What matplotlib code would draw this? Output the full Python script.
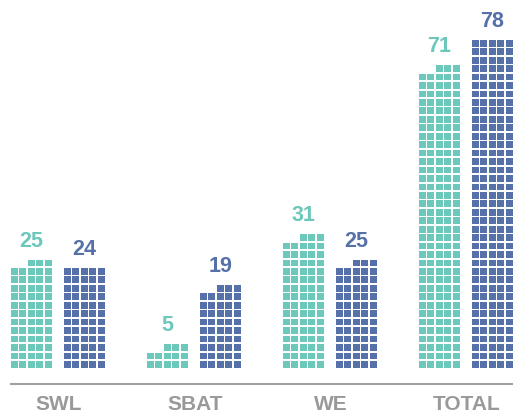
import matplotlib
matplotlib.use('Agg')
import matplotlib.pyplot as plt
from matplotlib.patches import Rectangle

categories = ['SWL', 'SBAT', 'WE', 'TOTAL']
teal_values = [25, 5, 31, 71]
blue_values = [24, 19, 25, 78]

TEAL = '#6DC8BC'
BLUE = '#5671AA'
GREY = '#999999'

# waffle layout (figure pixels)
tiles_per_unit = 2.5
cols = 5
pitch = 8.45
tile = 6.75
base = 50.3
first_left = 11
group_step = 136
pair_offset = 53

fig = plt.figure(figsize=(5.13, 4.18), dpi=100)
ax = fig.add_axes([0, 0, 1, 1])
ax.set_xlim(0, 513)
ax.set_ylim(0, 418)
ax.axis('off')

font = 'Liberation Sans'


def draw_bar(left, value, color):
    n = int(value * tiles_per_unit + 0.5)
    full, rest = divmod(n, cols)
    for r in range(full):
        for c in range(cols):
            ax.add_patch(Rectangle((left + c * pitch, base + r * pitch), tile, tile,
                                   facecolor=color, lw=0))
    # leftover tiles sit on the right of the top row
    for c in range(cols - rest, cols):
        ax.add_patch(Rectangle((left + c * pitch, base + full * pitch), tile, tile,
                               facecolor=color, lw=0))
    rows = full + (1 if rest else 0)
    top = base + (rows - 1) * pitch + tile
    ax.text(left + ((cols - 1) * pitch + tile) / 2, top + 13, str(value),
            ha='center', va='baseline', color=color, fontsize=15.5,
            fontweight='bold', family=font)


bar_w = (cols - 1) * pitch + tile
for i, cat in enumerate(categories):
    left = first_left + i * group_step
    draw_bar(left, teal_values[i], TEAL)
    draw_bar(left + pair_offset, blue_values[i], BLUE)
    ax.text(left + (pair_offset + bar_w) / 2 + 1, 13, cat, ha='center', va='center',
            color=GREY, fontsize=15, fontweight='bold', family=font)

ax.axhline(34, xmin=first_left / 513, xmax=1, color='#A0A0A0', lw=1.5)

fig.savefig('out.png', dpi=100)
